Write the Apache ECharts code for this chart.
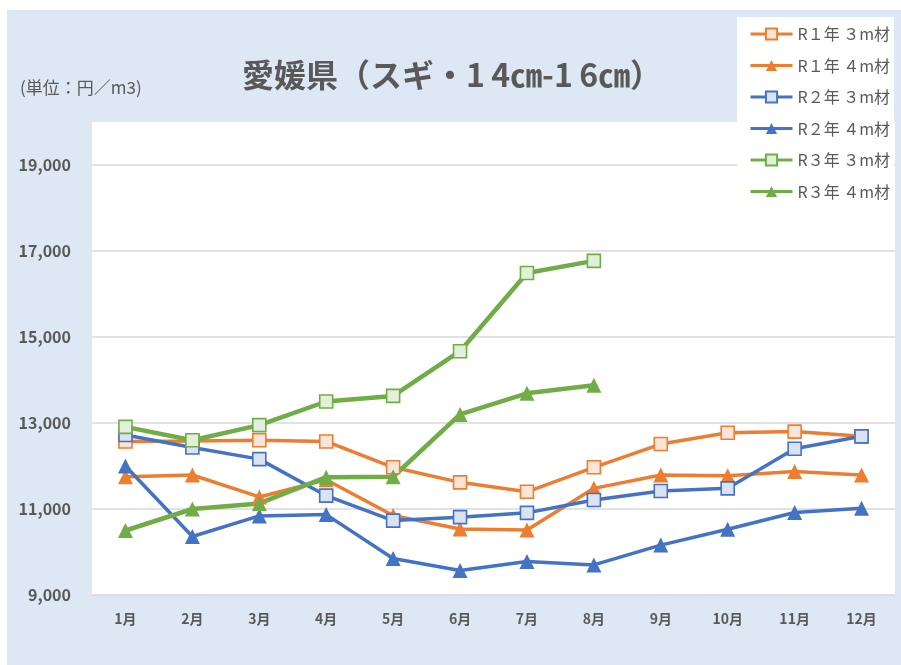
<!DOCTYPE html>
<html><head><meta charset="utf-8">
<script src="https://cdn.jsdelivr.net/npm/echarts@6/dist/echarts.min.js"></script>
<style>
html,body{margin:0;padding:0;background:#fff;}
#c{width:901px;height:665px;background:linear-gradient(#DEE7F4,#DEE7F4) no-repeat 7px 10px / 894px 655px, #fff;}
</style></head>
<body><div id="c"></div>
<script>
const months = ['1月','2月','3月','4月','5月','6月','7月','8月','9月','10月','11月','12月'];
const r1_3m = [12570, 12580, 12600, 12570, 11970, 11620, 11400, 11970, 12510, 12775, 12800, 12690];
const r1_4m = [11750, 11790, 11280, 11680, 10850, 10535, 10510, 11480, 11790, 11775, 11870, 11790];
const r2_3m = [12720, 12430, 12160, 11310, 10730, 10810, 10910, 11210, 11420, 11480, 12400, 12690];
const r2_4m = [12000, 10360, 10840, 10870, 9850, 9570, 9780, 9700, 10160, 10530, 10920, 11020];
const r3_3m = [12910, 12600, 12950, 13500, 13630, 14670, 16490, 16770];
const r3_4m = [10500, 11000, 11130, 11740, 11750, 13200, 13690, 13880];
const names = ['R１年 ３m材','R１年 ４m材','R２年 ３m材','R２年 ４m材','R３年 ３m材','R３年 ４m材'];
const yMin = 9000, yMax = 20000, yStep = 1000;

const ORANGE = '#ED7D31', BLUE = '#4472C4', GREEN = '#70AD47';
const FONT = '"Noto Sans CJK JP", "Noto Sans", sans-serif';

function sq(name, data, color, fill, w) {
  return { name, type: 'line', data, symbol: 'rect', symbolSize: 13,
    lineStyle: { color, width: w }, itemStyle: { color: fill, borderColor: color, borderWidth: 1.6 },
    emphasis: { disabled: true } };
}
function tri(name, data, color, w) {
  return { name, type: 'line', data, symbol: 'triangle', symbolSize: 15,
    lineStyle: { color, width: w }, itemStyle: { color: color, borderColor: color, borderWidth: 0 },
    emphasis: { disabled: true } };
}

const chart = echarts.init(document.getElementById('c'), null, { renderer: 'canvas' });
chart.setOption({
  animation: false,
  textStyle: { fontFamily: FONT },
  title: [
    { text: '愛媛県（スギ・1\u20094㎝-1\u20096㎝）', left: 447, textAlign: 'center', top: 54,
      textStyle: { fontFamily: FONT, fontSize: 32, fontWeight: 'bold', color: '#595959' } },
    { text: '(単位：円／m3)', left: 15, top: 74,
      textStyle: { fontFamily: FONT, fontSize: 17, fontWeight: 'normal', color: '#595959' } }
  ],
  legend: {
    orient: 'vertical', left: 737, top: 17, backgroundColor: '#fff',
    padding: [9, 4, 9, 12], itemGap: 15.5, itemWidth: 42, itemHeight: 14,
    lineStyle: { width: 3 },
    textStyle: { fontFamily: FONT, fontSize: 16, color: '#595959' },
    data: names
  },
  grid: { left: 92, right: 6, top: 122, bottom: 70, show: true, backgroundColor: '#fff', borderWidth: 0 },
  xAxis: {
    type: 'category', data: months, boundaryGap: true,
    axisLine: { lineStyle: { color: '#d9d9d9', width: 1 } },
    axisTick: { show: false },
    axisLabel: { fontFamily: FONT, fontSize: 14, fontWeight: 'bold', color: '#595959', margin: 17 }
  },
  yAxis: {
    type: 'value', min: yMin, max: yMax, interval: yStep,
    axisLine: { show: false }, axisTick: { show: false },
    axisLabel: { fontFamily: FONT, fontSize: 16, fontWeight: 'bold', color: '#595959', margin: 21,
      formatter: v => ((v / 1000) % 2 === 1 && v < yMax) ? v.toLocaleString('en-US') : '' },
    splitLine: { show: true, lineStyle: { color: ['#d9d9d9', 'rgba(0,0,0,0)'], width: 1.5 } }
  },
  series: [
    sq(names[0], r1_3m, ORANGE, '#FBE5D6', 3.5),
    tri(names[1], r1_4m, ORANGE, 3.5),
    sq(names[2], r2_3m, BLUE, '#DAE3F3', 3.5),
    tri(names[3], r2_4m, BLUE, 3.5),
    sq(names[4], r3_3m, GREEN, '#E2F0D9', 4.5),
    tri(names[5], r3_4m, GREEN, 4.5)
  ]
});
</script></body></html>
